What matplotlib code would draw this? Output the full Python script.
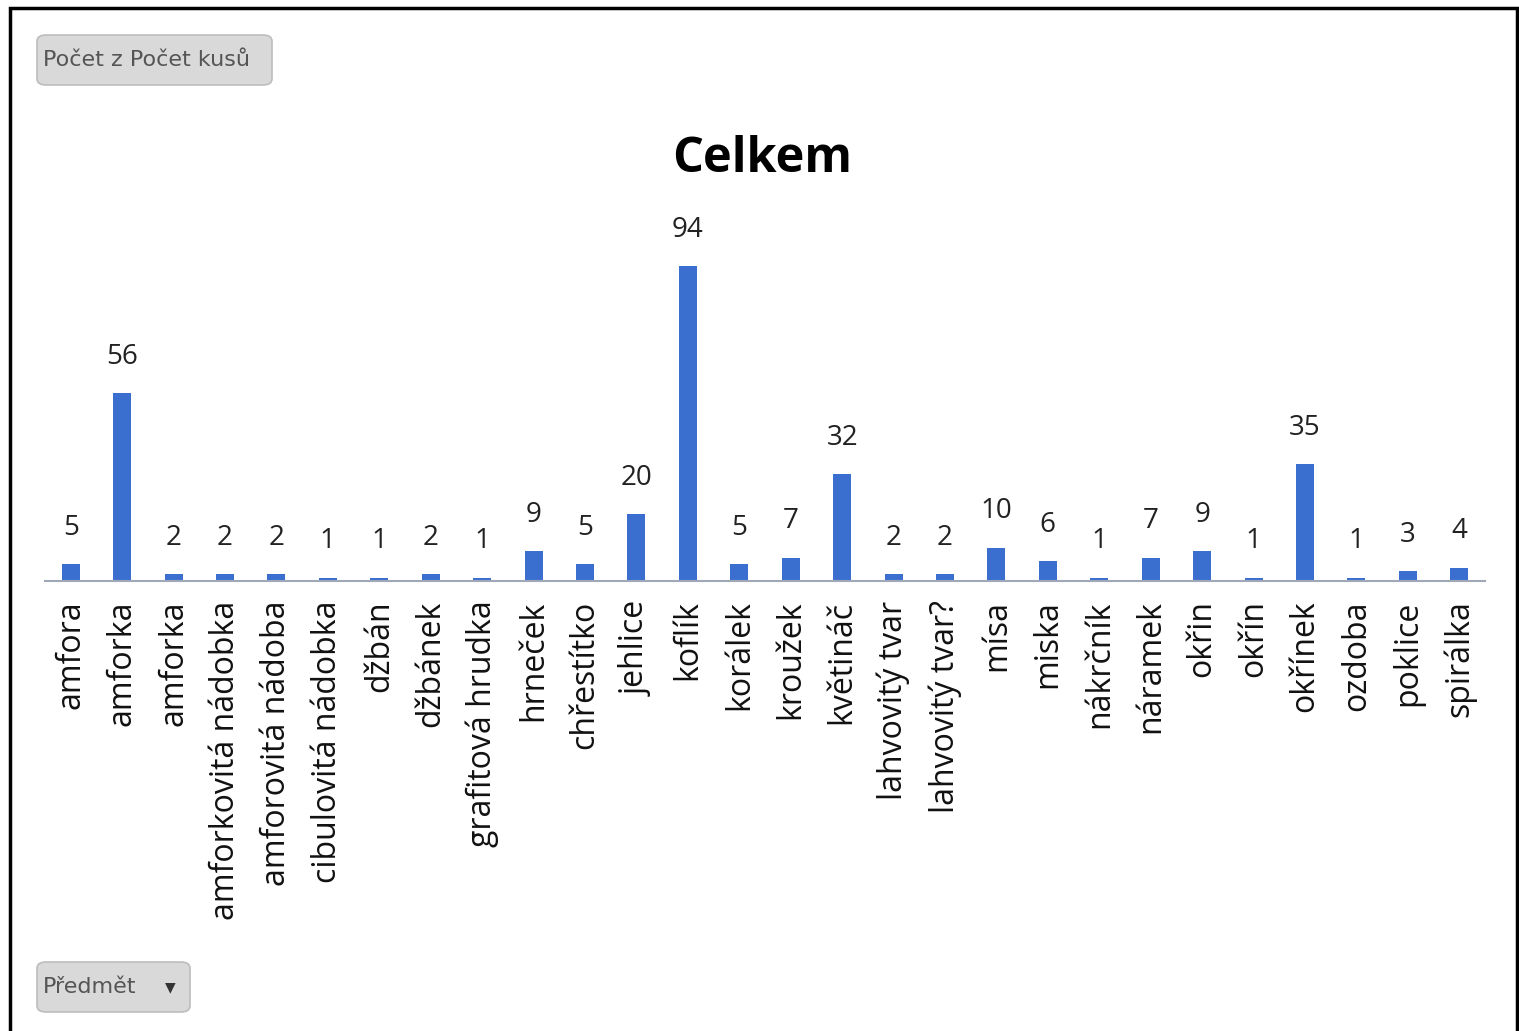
import matplotlib
matplotlib.use('Agg')
from matplotlib import pyplot as plt
from matplotlib.patches import FancyBboxPatch, Rectangle
import numpy as np

plt.rcParams['font.family'] = ['Open Sans', 'DejaVu Sans']

predmety = ['amfora', 'amforka', 'amforka', 'amforkovitá nádobka', 'amforovitá nádoba',
            'cibulovitá nádobka', 'džbán', 'džbánek', 'grafitová hrudka', 'hrneček',
            'chřestítko', 'jehlice', 'koflík', 'korálek', 'kroužek', 'květináč',
            'lahvovitý tvar', 'lahvovitý tvar?', 'mísa', 'miska', 'nákrčník', 'náramek',
            'okřin', 'okřín', 'okřínek', 'ozdoba', 'poklice', 'spirálka']
pocet = [5, 56, 2, 2, 2, 1, 1, 2, 1, 9, 5, 20, 94, 5, 7, 32, 2, 2, 10, 6, 1, 7, 9, 1, 35, 1, 3, 4]

W, H = 1519, 1031
fig = plt.figure(figsize=(W / 100, H / 100), dpi=100)

# outer frame
fig.patches.append(Rectangle((10 / W, -0.01), 1507 / W, (H - 8) / H + 0.01,
                             transform=fig.transFigure, fill=False,
                             edgecolor='black', linewidth=2.5))

ax = fig.add_axes([45 / W, (H - 581) / H, 1440 / W, 335 / H])
x = np.arange(len(predmety))
bars = ax.bar(x, pocet, width=0.35, color='#3b6fcf')
ax.set_xlim(-0.5, len(predmety) - 0.5)
ax.set_ylim(0, 100)

for b, v in zip(bars, pocet):
    ax.annotate(str(v), (b.get_x() + b.get_width() / 2, v), xytext=(0, 16),
                textcoords='offset points', ha='center', va='bottom',
                fontsize=20, color='#222222')

ax.set_xticks(x)
ax.set_xticklabels(predmety, rotation=90, fontsize=23, color='#111111')
ax.tick_params(axis='x', length=0, pad=14)
ax.set_yticks([])
for s in ['top', 'right', 'left']:
    ax.spines[s].set_visible(False)
ax.spines['bottom'].set_color('#a0a8b8')
ax.spines['bottom'].set_linewidth(1.5)

fig.text(762 / W, 1 - 160 / H, 'Celkem', ha='center', va='center',
         fontsize=35, fontweight='bold', color='black')

# pivot field buttons
def button(x0, y0, w, h, label, arrow=False):
    fig.patches.append(FancyBboxPatch((x0 / W, 1 - (y0 + h) / H), w / W, h / H,
                                      boxstyle='round,pad=0,rounding_size=0.006',
                                      transform=fig.transFigure,
                                      facecolor='#d9d9d9', edgecolor='#bdbdbd',
                                      linewidth=1.2))
    fig.text((x0 + 6) / W, 1 - (y0 + h / 2) / H, label, ha='left', va='center',
             fontsize=16, color='#555555', family=['Liberation Sans Narrow', 'DejaVu Sans'])
    if arrow:
        fig.text((x0 + w - 20) / W, 1 - (y0 + h / 2) / H, '▼', ha='center',
                 va='center', fontsize=10, color='#333333', family='DejaVu Sans')

button(37, 35, 235, 50, 'Počet z Počet kusů')
button(37, 962, 153, 50, 'Předmět', arrow=True)

fig.savefig('out.png', dpi=100, facecolor='white')
